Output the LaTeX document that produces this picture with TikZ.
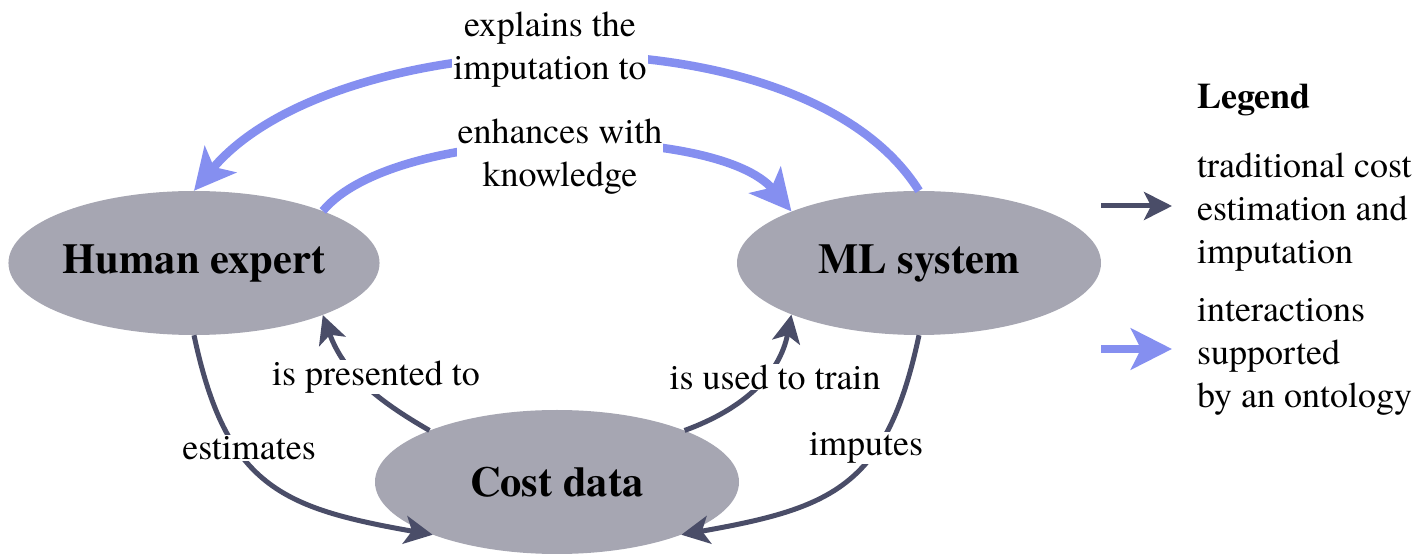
\documentclass[tikz,border=0pt]{standalone}
\usepackage{fontspec}
\setmainfont{texgyretermes}[Extension=.otf, UprightFont=*-regular, BoldFont=*-bold, ItalicFont=*-italic, BoldItalicFont=*-bolditalic]
\usetikzlibrary{arrows.meta,shapes.geometric}
\definecolor{nodefill}{HTML}{A6A6B2}
\definecolor{darkarr}{HTML}{4A4D68}
\definecolor{bluearr}{HTML}{858FF0}
\begin{document}
\begin{tikzpicture}[x=1pt,y=1pt,
  ent/.style={ellipse, fill=nodefill, minimum width=364pt, minimum height=144pt, inner sep=0pt, font=\fontsize{42.5}{50}\selectfont\bfseries},
  lbl/.style={fill=white, inner sep=1pt, align=center, font=\fontsize{36}{43}\selectfont},
  leg/.style={inner sep=0pt, anchor=west, align=left, font=\fontsize{36}{43}\selectfont},
  trad/.style={draw=darkarr, line width=5pt, -{Stealth[length=28pt,width=28pt,inset=7pt]}},
  onto/.style={draw=bluearr, line width=8.5pt, -{Stealth[length=41pt,width=41pt,inset=10pt]}},
]
\useasboundingbox (0,0) rectangle (1417,554);
\node[ent] (he) at (194,291) {Human expert};
\node[ent] (ml) at (919,291) {ML system};
\node[ent] (cd) at (557,72) {Cost data};

% ontology-supported interactions
\draw[onto] (ml.north) .. controls +(122:220) and +(50:220) .. (he.north);
\draw[onto] (he.22) .. controls +(50:115) and +(130:115) .. (ml.158);

% traditional
\draw[trad] (cd.158) to[out=150, in=-70] (he.-22);
\draw[trad] (cd.22) to[out=20, in=-101] (ml.202);
\draw[trad] (he.south) to[out=-78, in=170, looseness=1.27] (cd.203);
\draw[trad] (ml.south) to[out=-102, in=10, looseness=1.27] (cd.-23);

% labels
\node[lbl] (l1) at (550,504) {explains the\\imputation to};
\node[lbl] (l2) at (560,397) {enhances with\\knowledge};
\node[lbl] (l3) at (376,177) {is presented to};
\node[lbl] (l4) at (775,177) {is used to train};
\node[lbl] (l5) at (249,106) {estimates};
\node[lbl] (l6) at (866,106) {imputes};

% legend
\node[leg] (legt) at (1197,454) {\bfseries Legend};
\node[leg] (leg1) at (1197,342) {traditional cost\\estimation and\\imputation};
\node[leg] (leg2) at (1197,197) {interactions\\supported\\by an ontology};
\coordinate (la1) at (1101,348);
\coordinate (lb1) at (1172,348);
\coordinate (la2) at (1101,205);
\coordinate (lb2) at (1172,205);
\draw[trad] (la1) -- (lb1);
\draw[onto] (la2) -- (lb2);
\end{tikzpicture}
\end{document}
